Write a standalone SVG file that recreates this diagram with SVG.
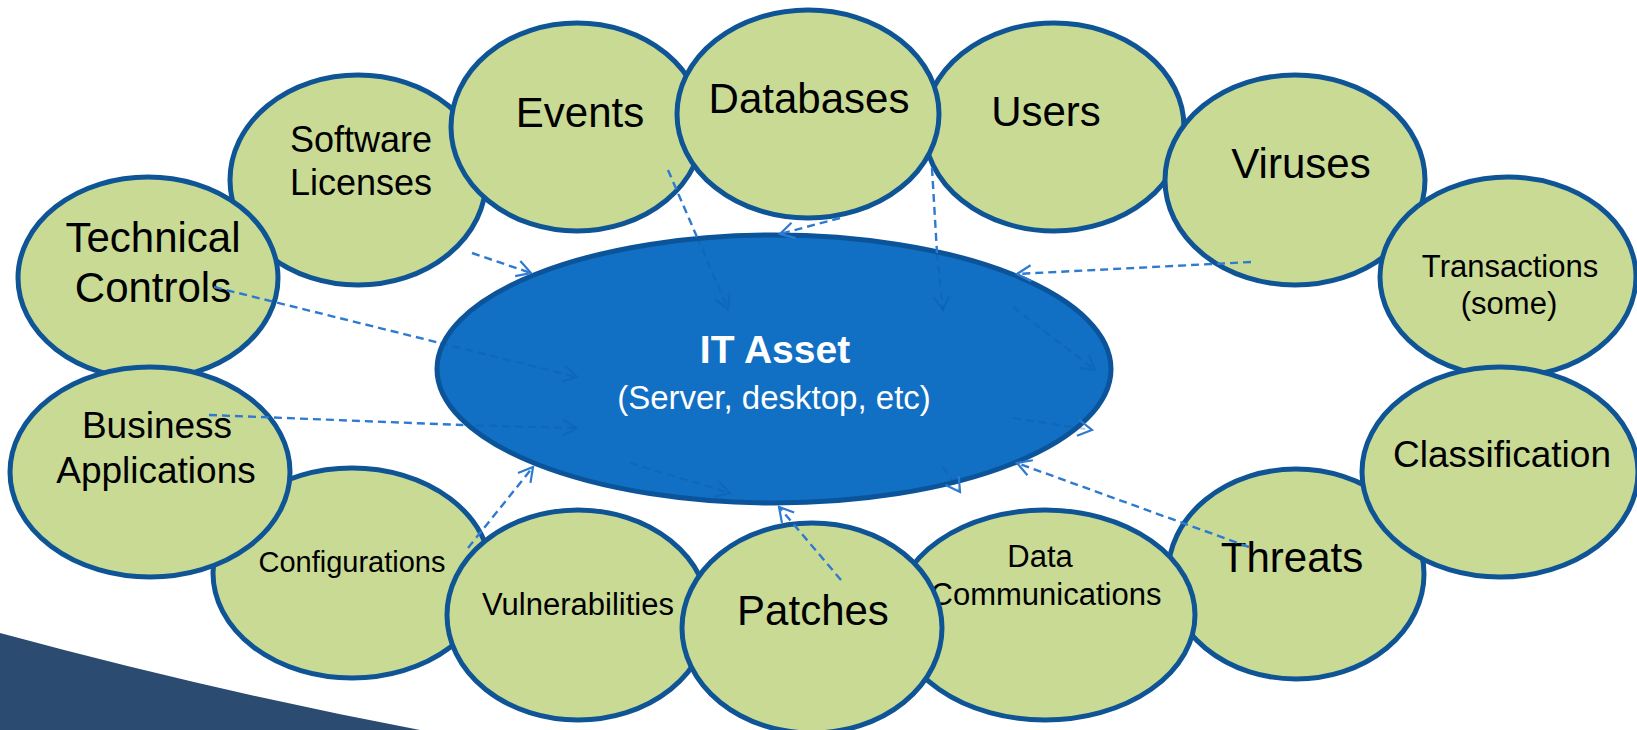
<svg xmlns="http://www.w3.org/2000/svg" width="1637" height="730" viewBox="0 0 1637 730">
<style>
.n ellipse{fill:#C9DA95;stroke:#0F5596;stroke-width:5}
.t{font-family:"Liberation Sans",Arial,sans-serif;fill:#000;text-anchor:middle}
.c{fill:none;stroke:#2E7AD1;stroke-width:2.4;stroke-dasharray:8 5}
.f{fill:none;stroke:#0A569E;stroke-opacity:0.3;stroke-width:2.2;stroke-dasharray:8 5}
.w{font-family:"Liberation Sans",Arial,sans-serif;fill:#fff;text-anchor:middle}
</style>
<defs>
<marker id="arr" viewBox="-16 -10 20 20" refX="0" refY="0" markerWidth="20" markerHeight="20" markerUnits="userSpaceOnUse" orient="auto">
<path d="M-14,-8 L0,0 L-14,8" fill="none" stroke="#2E7AD1" stroke-width="2.2"/>
</marker>
<marker id="arrf" viewBox="-16 -10 20 20" refX="0" refY="0" markerWidth="20" markerHeight="20" markerUnits="userSpaceOnUse" orient="auto">
<path d="M-14,-8 L0,0 L-14,8" fill="none" stroke="#0A569E" stroke-opacity="0.3" stroke-width="2.2"/>
</marker>
</defs>
<rect width="1637" height="730" fill="#fff"/>
<path id="swoosh" d="M0,633 Q210,690 420,730 L0,730 Z" fill="#2C4B70"/>

<g id="node-software-licenses" class="n"><ellipse cx="358" cy="180" rx="128" ry="105"/><text class="t" font-size="36" x="361" y="152">Software</text><text class="t" font-size="36" x="361" y="195">Licenses</text></g>
<g id="node-technical-controls" class="n"><ellipse cx="148" cy="278" rx="130" ry="101"/><text class="t" font-size="42" x="153" y="252">Technical</text><text class="t" font-size="42" x="153" y="302">Controls</text></g>
<g id="node-events" class="n"><ellipse cx="577" cy="127" rx="126" ry="104"/><text class="t" font-size="42" x="580" y="127">Events</text></g>
<g id="node-users" class="n"><ellipse cx="1054" cy="127" rx="130" ry="104"/><text class="t" font-size="42" x="1046" y="126">Users</text></g>
<g id="node-databases" class="n"><ellipse cx="808" cy="114" rx="131" ry="104"/><text class="t" font-size="42" x="809" y="113">Databases</text></g>
<g id="node-viruses" class="n"><ellipse cx="1295" cy="180" rx="130" ry="105"/><text class="t" font-size="42" x="1301" y="178">Viruses</text></g>
<g id="node-transactions" class="n"><ellipse cx="1508" cy="277" rx="128" ry="100"/><text class="t" font-size="31" x="1510" y="277">Transactions</text><text class="t" font-size="31" x="1509" y="314">(some)</text></g>
<g id="node-threats" class="n"><ellipse cx="1296" cy="574" rx="128" ry="105"/><text class="t" font-size="42" x="1292" y="572">Threats</text></g>
<g id="node-classification" class="n"><ellipse cx="1500" cy="472" rx="138" ry="105"/><text class="t" font-size="37" x="1502" y="467">Classification</text></g>
<g id="node-data-communications" class="n"><ellipse cx="1045" cy="615" rx="150" ry="105"/><text class="t" font-size="31" x="1040" y="567">Data</text><text class="t" font-size="31" x="1046" y="605">Communications</text></g>
<g id="node-configurations" class="n"><ellipse cx="352" cy="573" rx="139" ry="105"/><text class="t" font-size="29" x="352" y="572">Configurations</text></g>
<g id="node-business-applications" class="n"><ellipse cx="150" cy="472" rx="140" ry="105"/><text class="t" font-size="37" x="157" y="438">Business</text><text class="t" font-size="37" x="156" y="483">Applications</text></g>
<g id="node-vulnerabilities" class="n"><ellipse cx="578" cy="615" rx="131" ry="105"/><text class="t" font-size="31" x="578" y="615">Vulnerabilities</text></g>
<g id="node-patches" class="n"><ellipse cx="812" cy="628" rx="130" ry="105"/><text class="t" font-size="42" x="813" y="625">Patches</text></g>

<g id="node-it-asset">
<ellipse cx="774" cy="369" rx="337" ry="134" fill="#1170C4" stroke="#0C549A" stroke-width="5"/>
<text class="w" font-size="39" font-weight="bold" x="775" y="363">IT Asset</text>
<text class="w" font-size="33" x="774" y="409">(Server, desktop, etc)</text>
</g>

<g id="connectors">
<path class="c" d="M472,253 L531,273" marker-end="url(#arr)"/>
<path class="c" d="M214,287 L440,343"/>
<path class="f" d="M440,343 L577,377" marker-end="url(#arrf)"/>
<path class="c" d="M668,170 L697,237"/>
<path class="f" d="M697,237 L728,309" marker-end="url(#arrf)"/>
<path class="c" d="M840,218 L780,234" marker-end="url(#arr)"/>
<path class="c" d="M932,168 L937,253"/>
<path class="f" d="M937,253 L943,310" marker-end="url(#arrf)"/>
<path class="c" d="M1251,262 L1017,274" marker-end="url(#arr)"/>
<path class="c" d="M1249,547 L1017,463" marker-end="url(#arr)"/>
<path class="c" d="M841,580 L779,507" marker-end="url(#arr)"/>
<path class="c" d="M468,548 L533,467" marker-end="url(#arr)"/>
<path class="c" d="M209,415 L463,425"/>
<path class="f" d="M463,425 L577,428" marker-end="url(#arrf)"/>
<path class="f" d="M1013,307 L1095,370" marker-end="url(#arrf)"/>
<path class="f" d="M1013,418 L1092,430" marker-end="url(#arr)"/>
<path class="f" d="M943,467 L960,492" marker-end="url(#arr)"/>
<path class="f" d="M630,463 L730,493" marker-end="url(#arrf)"/>
</g>
</svg>
